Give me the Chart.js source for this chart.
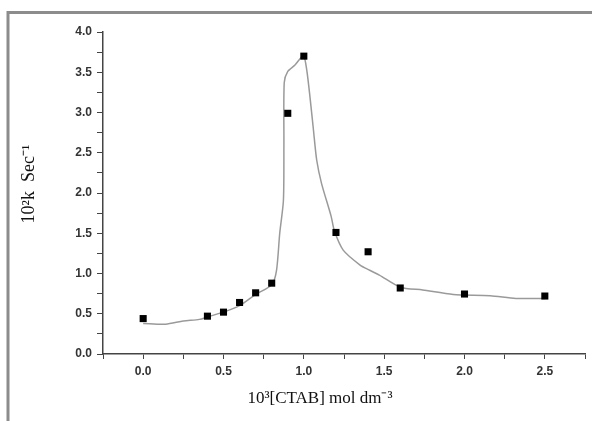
<!DOCTYPE html>
<html>
<head>
<meta charset="utf-8">
<script src="https://cdn.jsdelivr.net/npm/chart.js@4.4.1/dist/chart.umd.min.js"></script>
<style>
  html, body { margin: 0; padding: 0; background: #fff; }
  #wrap { position: relative; width: 592px; height: 421px; }
</style>
</head>
<body>
<div id="wrap"><canvas id="c" width="592" height="421"></canvas></div>
<script>
// measured points
var concX = [0.0, 0.4, 0.5, 0.6, 0.7, 0.8, 0.9, 1.0, 1.2, 1.4, 1.6, 2.0, 2.5];
var rateK = [0.44, 0.47, 0.52, 0.64, 0.76, 0.88, 2.99, 3.70, 1.51, 1.27, 0.82, 0.745, 0.72];

// fitted curve
var curveX = [0, 0.14, 0.25, 0.35, 0.4, 0.5, 0.6, 0.7, 0.8, 0.83, 0.85, 0.873, 0.876, 0.878, 0.90, 0.945, 0.997,
              1.018, 1.04, 1.06, 1.08, 1.11, 1.17, 1.19, 1.245, 1.35, 1.41, 1.47, 1.6, 1.74, 1.93, 2.16, 2.32, 2.5];
var curveY = [0.38, 0.37, 0.41, 0.43, 0.46, 0.52, 0.60, 0.74, 0.86, 1.04, 1.50, 1.91, 2.6, 3.37, 3.51, 3.59, 3.705,
              3.53, 3.16, 2.78, 2.41, 2.12, 1.71, 1.53, 1.29, 1.105, 1.04, 0.98, 0.83, 0.795, 0.74, 0.725, 0.69, 0.69];

var yTicks = [0.0, 0.5, 1.0, 1.5, 2.0, 2.5, 3.0, 3.5, 4.0];
var xTicks = [0.0, 0.5, 1.0, 1.5, 2.0, 2.5];

function pairs(xs, ys) {
    return xs.map(function (x, i) { return { x: x, y: ys[i] }; });
}

function isMajor(v, list) {
    return list.some(function (t) { return Math.abs(t - v) < 1e-6; });
}

var framePlugin = {
    id: 'frame',
    beforeDraw: function (chart) {
        var ctx = chart.ctx;
        ctx.save();
        ctx.fillStyle = '#fff';
        ctx.fillRect(0, 0, chart.width, chart.height);
        ctx.strokeStyle = '#8c8c8c';
        ctx.lineWidth = 3;
        ctx.beginPath();
        ctx.moveTo(8, chart.height);
        ctx.lineTo(8, 12.5);
        ctx.lineTo(chart.width, 12.5);
        ctx.stroke();
        ctx.restore();
    },
    afterDraw: function (chart) {
        var ctx = chart.ctx;
        ctx.save();
        ctx.fillStyle = '#111';
        ctx.textAlign = 'center';
        ctx.textBaseline = 'middle';
        ctx.font = '17px "Liberation Serif", "Times New Roman", serif';
        ctx.fillText('10³[CTAB] mol dm⁻³', 320, 399);
        ctx.font = '18px "Liberation Serif", "Times New Roman", serif';
        ctx.translate(29, 184);
        ctx.rotate(-Math.PI / 2);
        ctx.fillText('10²k  Sec⁻¹', 0, 0);
        ctx.restore();
    }
};

var tickFont = { family: '"Liberation Sans", Arial, sans-serif', size: 12, weight: 'bold' };

new Chart(document.getElementById('c').getContext('2d'), {
    type: 'scatter',
    data: {
        datasets: [{
            type: 'line',
            data: pairs(curveX, curveY),
            borderColor: '#9a9a9a',
            borderWidth: 1.5,
            pointRadius: 0,
            tension: 0.25,
            fill: false,
            order: 2
        }, {
            data: pairs(concX, rateK),
            pointStyle: 'rect',
            pointRadius: 5,
            backgroundColor: '#000',
            borderColor: '#000',
            borderWidth: 0,
            order: 1
        }]
    },
    options: {
        responsive: false,
        animation: false,
        layout: { padding: { top: 32, right: 7, left: 0, bottom: 0 } },
        plugins: { legend: { display: false }, tooltip: { enabled: false } },
        scales: {
            x: {
                type: 'linear',
                min: -0.25,
                max: 2.75,
                afterFit: function (s) { s.height = 67; },
                border: { color: '#444', width: 1.5 },
                grid: { drawOnChartArea: false, color: '#444', tickLength: 5, lineWidth: 1 },
                ticks: {
                    stepSize: 0.25,
                    padding: 5,
                    color: '#333',
                    font: tickFont,
                    maxRotation: 0,
                    autoSkip: false,
                    callback: function (v) { return (isMajor(v, xTicks)) ? v.toFixed(1) : ''; }
                }
            },
            y: {
                type: 'linear',
                min: 0,
                max: 4,
                afterFit: function (s) { s.width = 103; },
                border: { color: '#444', width: 1.5 },
                grid: { drawOnChartArea: false, color: '#444', tickLength: 6, lineWidth: 1 },
                ticks: {
                    stepSize: 0.25,
                    padding: 5,
                    color: '#333',
                    font: tickFont,
                    autoSkip: false,
                    callback: function (v) { return isMajor(v, yTicks) ? v.toFixed(1) : ''; }
                }
            }
        }
    },
    plugins: [framePlugin]
});
</script>
</body>
</html>
